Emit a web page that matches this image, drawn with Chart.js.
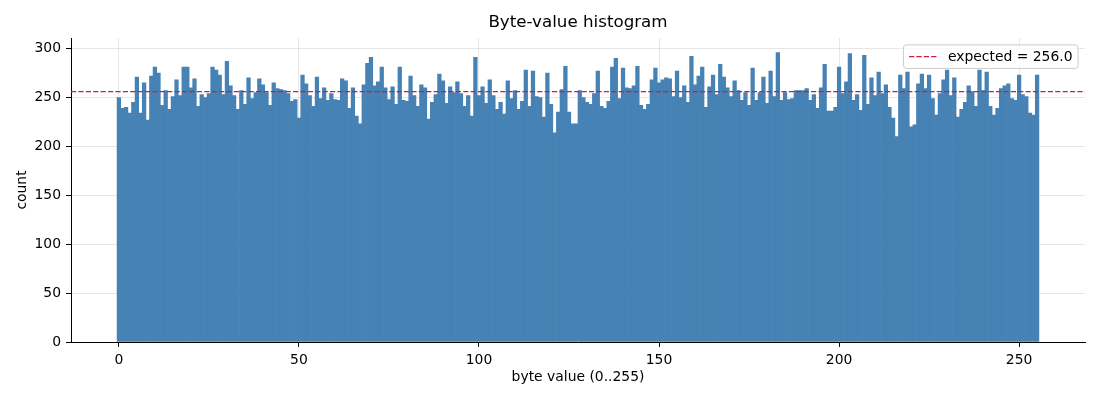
<!DOCTYPE html>
<html>
<head>
<meta charset="utf-8">
<script src="https://cdn.jsdelivr.net/npm/chart.js@4.4.1/dist/chart.umd.min.js"></script>
<style>
  html, body { margin: 0; padding: 0; background: #ffffff; }
  #wrap { width: 1100px; height: 400px; }
</style>
</head>
<body>
<div id="wrap"><canvas id="c" width="1100" height="400"></canvas></div>
<script>
// ---- data ----
const byteValues = Array.from({ length: 256 }, (_, i) => i);
const counts = [
  250,239,240,234,245,271,234,265,227,272,281,275,242,257,238,251,
  268,252,281,281,260,269,241,253,250,254,281,278,273,253,287,262,
  252,238,257,243,270,249,255,269,263,255,242,265,259,258,257,254,
  246,248,229,273,264,252,241,271,249,260,247,254,248,247,269,267,
  239,260,231,223,263,285,291,262,266,281,260,248,261,243,281,247,
  246,272,252,241,263,260,228,245,253,274,267,244,261,255,266,254,
  241,252,231,291,252,261,244,268,252,238,245,233,267,249,257,238,
  246,278,241,277,251,250,230,275,243,214,235,258,282,235,223,223,
  257,250,245,243,254,277,241,239,246,281,290,249,280,260,259,262,
  282,242,238,243,268,280,265,268,270,269,251,277,250,262,245,292,
  263,272,281,240,261,273,253,284,271,260,251,267,257,247,255,242,
  280,247,255,271,244,277,251,296,247,255,248,249,257,257,257,259,
  247,253,239,260,284,236,236,240,281,254,266,295,247,253,237,293,
  243,270,252,276,254,263,240,229,210,273,259,276,220,222,264,274,
  259,273,249,232,254,268,278,252,270,230,238,245,262,256,241,278,
  257,276,241,232,239,259,262,264,249,247,273,253,251,234,232,273
];
const expected = 256.0;
const xTicks = [0, 50, 100, 150, 200, 250];
const yTicks = [0, 50, 100, 150, 200, 250, 300];
const titleText = 'Byte-value histogram';
const xLabel = 'byte value (0..255)';
const yLabel = 'count';
const legendLabel = 'expected = ' + expected.toFixed(1);

// ---- axis limits (matplotlib-style 5% margins) ----
const xLo = byteValues[0] - 0.5, xHi = byteValues[byteValues.length - 1] + 0.5;
const xMargin = 0.05 * (xHi - xLo);
const xMin = xLo - xMargin, xMax = xHi + xMargin;
const yMax = Math.max(...counts) * 1.05;

// ---- styles ----
const BAR_COLOR = '#4682b4';
const LINE_COLOR = '#dc143c';
const GRID_COLOR = 'rgba(176,176,176,0.3)';
const FONT = '"DejaVu Sans", "Liberation Sans", sans-serif';
const TICK_SIZE = 13.9;

Chart.defaults.font.family = FONT;
Chart.defaults.color = '#000000';

const insideLegend = {
  id: 'insideLegend',
  afterDraw(chart) {
    const { ctx, chartArea: a } = chart;
    ctx.save();
    ctx.font = TICK_SIZE + 'px ' + FONT;
    const tw = ctx.measureText(legendLabel).width;
    const pad = 5.6, handle = 27.8, gap = 11.1, axPad = 6.9;
    const boxH = 23.5;
    const boxW = pad + handle + gap + tw + pad;
    const right = a.right - axPad;
    const left = right - boxW;
    const top = a.top + axPad;
    ctx.beginPath();
    if (ctx.roundRect) ctx.roundRect(left, top, boxW, boxH, 3);
    else ctx.rect(left, top, boxW, boxH);
    ctx.fillStyle = 'rgba(255,255,255,0.8)';
    ctx.fill();
    ctx.strokeStyle = '#cccccc';
    ctx.lineWidth = 1;
    ctx.stroke();
    const cy = top + boxH / 2;
    ctx.beginPath();
    ctx.setLineDash([5.2, 2.2]);
    ctx.strokeStyle = LINE_COLOR;
    ctx.lineWidth = 1.3;
    ctx.moveTo(left + pad, cy);
    ctx.lineTo(left + pad + handle, cy);
    ctx.stroke();
    ctx.setLineDash([]);
    ctx.fillStyle = '#000000';
    ctx.textBaseline = 'middle';
    ctx.textAlign = 'left';
    ctx.fillText(legendLabel, left + pad + handle + gap, cy + 0.5);
    ctx.restore();
  }
};

new Chart(document.getElementById('c'), {
  data: {
    datasets: [
      {
        type: 'line',
        label: legendLabel,
        data: [{ x: xMin, y: expected }, { x: xMax, y: expected }],
        borderColor: LINE_COLOR,
        borderWidth: 1.3,
        borderDash: [5.2, 2.2],
        pointRadius: 0,
        fill: false,
        order: 0
      },
      {
        type: 'bar',
        label: 'count',
        data: byteValues.map((v, i) => ({ x: v, y: counts[i] })),
        backgroundColor: BAR_COLOR,
        borderWidth: 0,
        barPercentage: 1.0,
        categoryPercentage: 1.0,
        order: 1
      }
    ]
  },
  options: {
    responsive: false,
    animation: false,
    devicePixelRatio: window.devicePixelRatio || 1,
    layout: { padding: { left: 0, right: 15, top: 0, bottom: 0 } },
    plugins: {
      legend: { display: false },
      tooltip: { enabled: false },
      title: {
        display: true,
        text: titleText,
        fullSize: false,
        color: '#000000',
        font: { size: 16.7, weight: 'normal', family: FONT },
        padding: { top: 13, bottom: 5 }
      }
    },
    scales: {
      x: {
        type: 'linear',
        min: xMin,
        max: xMax,
        offset: false,
        z: 1,
        afterBuildTicks: (s) => { s.ticks = xTicks.map(v => ({ value: v })); },
        afterFit: (s) => { s.height = 58; },
        ticks: {
          autoSkip: false,
          maxRotation: 0,
          padding: 5,
          color: '#000000',
          font: { size: TICK_SIZE },
          callback: (v) => String(v)
        },
        grid: {
          offset: false,
          color: GRID_COLOR,
          lineWidth: 1,
          drawTicks: true,
          tickLength: 5,
          tickColor: '#000000',
          tickWidth: 1
        },
        border: { display: true, color: '#000000', width: 1 },
        title: {
          display: true,
          text: xLabel,
          color: '#000000',
          font: { size: TICK_SIZE },
          padding: { top: 0, bottom: 14.6 }
        }
      },
      y: {
        type: 'linear',
        min: 0,
        max: yMax,
        z: 1,
        afterBuildTicks: (s) => { s.ticks = yTicks.map(v => ({ value: v })); },
        afterFit: (s) => { s.width = 71; },
        ticks: {
          autoSkip: false,
          padding: 5,
          color: '#000000',
          font: { size: TICK_SIZE },
          callback: (v) => String(v)
        },
        grid: {
          offset: false,
          color: GRID_COLOR,
          lineWidth: 1,
          drawTicks: true,
          tickLength: 5,
          tickColor: '#000000',
          tickWidth: 1
        },
        border: { display: true, color: '#000000', width: 1 },
        title: {
          display: true,
          text: yLabel,
          color: '#000000',
          font: { size: TICK_SIZE },
          padding: { top: 13.6, bottom: 0 }
        }
      }
    }
  },
  plugins: [insideLegend]
});
</script>
</body>
</html>
